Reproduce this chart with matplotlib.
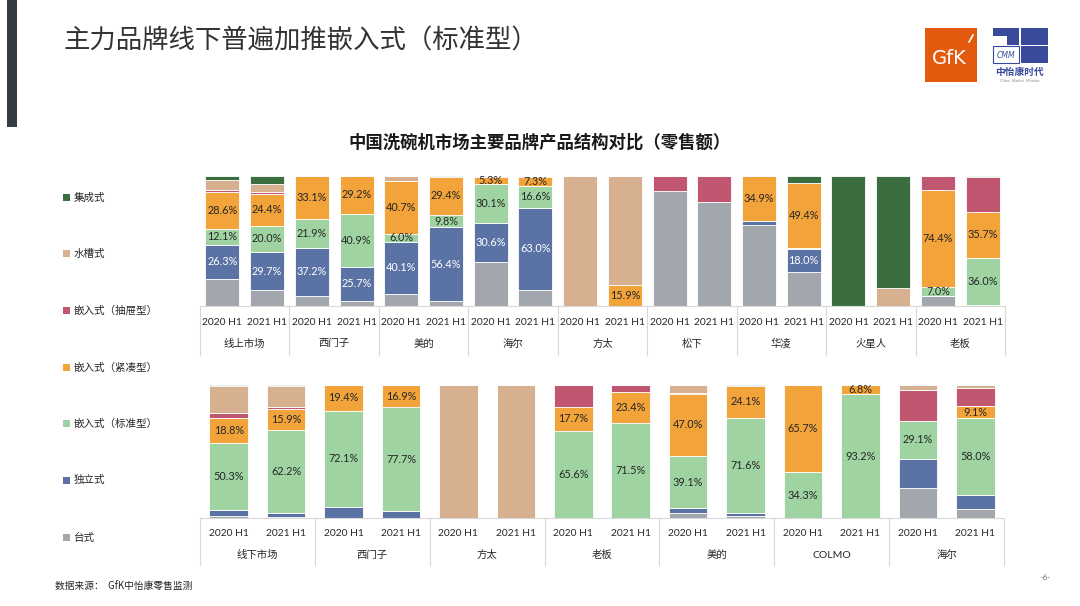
"""
中国洗碗机市场主要品牌产品结构对比（零售额）
Two stacked 100% bar panels + legend and header.
"""

import matplotlib

matplotlib.use("Agg")
import matplotlib.pyplot as plt
import matplotlib.transforms as mtransforms
import numpy as np
from matplotlib.patches import Rectangle

# ─────────────────────────────────────────────
# COLOURS / FONTS
# ─────────────────────────────────────────────
C_JICHENG = "#3a6e3f"
C_SHUICAO = "#d6b08f"
C_CHOUTI = "#c0566f"
C_JINCOU = "#f2a33a"
C_BIAOZHUN = "#9fd4a2"
C_DULI = "#5b72a5"
C_TAISHI = "#a1a7ad"
TEXT_DARK = "#262626"
GRID_LINE = "#d9d9d9"

plt.rcParams["font.family"] = ["Lato", "Noto Sans CJK SC", "DejaVu Sans"]

# ─────────────────────────────────────────────
# DATA  (share of retail value, %)
# ─────────────────────────────────────────────
series_names = ["台式", "独立式", "嵌入式（标准型）", "嵌入式（紧凑型）", "嵌入式（抽屉型）", "水槽式", "集成式"]
series_colors = [C_TAISHI, C_DULI, C_BIAOZHUN, C_JINCOU, C_CHOUTI, C_SHUICAO, C_JICHENG]
periods = ["2020 H1", "2021 H1"]

# top panel
top_brands = ["线上市场", "西门子", "美的", "海尔", "方太", "松下", "华凌", "火星人", "老板"]
top_taishi = [20.9, 12.0, 7.8, 4.2, 9.4, 4.0, 33.5, 12.6, 0, 0, 88.7, 79.8, 62.5, 25.8, 0, 0, 7.8, 0.9]
top_duli = [26.3, 29.7, 37.2, 25.7, 40.1, 56.4, 30.6, 63.0, 0, 0, 0, 0.5, 2.6, 18.0, 0, 0, 0, 0]
top_biaozhun = [12.1, 20.0, 21.9, 40.9, 6.0, 9.8, 30.1, 16.6, 0, 0, 0, 0, 0, 1.2, 0, 0, 7.0, 36.0]
top_jincou = [28.6, 24.4, 33.1, 29.2, 40.7, 29.4, 5.3, 7.3, 0, 15.9, 0, 0, 34.9, 49.4, 0, 0, 74.4, 35.7]
top_chouti = [1.3, 1.8, 0, 0, 0, 0, 0.5, 0.5, 0, 0, 11.3, 19.7, 0, 0, 0, 0, 10.8, 27.0]
top_shuicao = [7.8, 5.9, 0, 0, 3.8, 0, 0, 0, 100, 84.1, 0, 0, 0, 0, 0, 13.6, 0, 0]
top_jicheng = [3.0, 6.2, 0, 0, 0, 0.4, 0, 0, 0, 0, 0, 0, 0, 5.6, 100, 86.4, 0, 0.4]

# bottom panel
bot_brands = ["线下市场", "西门子", "方太", "老板", "美的", "COLMO", "海尔"]
bot_taishi = [1.3, 0.5, 0, 0, 0, 0, 0, 0, 3.7, 1.4, 0, 0, 22.4, 6.6]
bot_duli = [5.0, 3.3, 8.5, 5.4, 0, 0, 0, 0, 3.7, 2.5, 0, 0, 21.8, 10.5]
bot_biaozhun = [50.3, 62.2, 72.1, 77.7, 0, 0, 65.6, 71.5, 39.1, 71.6, 34.3, 93.2, 29.1, 58.0]
bot_jincou = [18.8, 15.9, 19.4, 16.9, 0, 0, 17.7, 23.4, 47.0, 24.1, 65.7, 6.8, 0, 9.1]
bot_chouti = [3.5, 1.8, 0, 0, 0, 0, 16.7, 5.1, 0.5, 0, 0, 0, 23.0, 13.8]
bot_shuicao = [20.6, 15.8, 0, 0, 100, 100, 0, 0, 6.0, 0, 0, 0, 3.7, 2.0]
bot_jicheng = [0.5, 0.5, 0, 0, 0, 0, 0, 0, 0, 0.4, 0, 0, 0, 0]

top_series = [top_taishi, top_duli, top_biaozhun, top_jincou, top_chouti, top_shuicao, top_jicheng]
bot_series = [bot_taishi, bot_duli, bot_biaozhun, bot_jincou, bot_chouti, bot_shuicao, bot_jicheng]

W, H = 1080, 606
fig = plt.figure(figsize=(W / 100, H / 100), dpi=100)
fig.patch.set_facecolor("white")


def px_rect(x0, y0, x1, y1):
    """pixel box (top-left origin) -> figure fraction rect"""
    return [x0 / W, 1 - y1 / H, (x1 - x0) / W, (y1 - y0) / H]


# background axes in pixel coordinates for header / legend / footer
bg = fig.add_axes([0, 0, 1, 1], zorder=-1)
bg.set_xlim(0, W)
bg.set_ylim(H, 0)
bg.axis("off")


def stacked_panel(ax, series, brands, bar_w, label_idx, lab_y, grp_y, line_y):
    n = len(series[0])
    x = np.arange(n)
    bottom = np.zeros(n)
    for k, (vals, color) in enumerate(zip(series, series_colors)):
        vals = np.array(vals, dtype=float)
        ax.bar(x, vals, bar_w, bottom=bottom, color=color, edgecolor="white", linewidth=0.6, zorder=2)
        if k in label_idx:
            txt_col = "white" if k == 1 else TEXT_DARK
            for xi, v, b in zip(x, vals, bottom):
                if v >= 5:
                    ax.text(xi, b + v / 2, f"{v:.1f}%", ha="center", va="center", fontsize=7.8, color=txt_col, zorder=3)
        bottom += vals

    ax.set_xlim(-0.5, n - 0.5)
    ax.set_ylim(0, 100)
    ax.set_xticks([])
    ax.set_yticks([])
    for s in ["top", "left", "right"]:
        ax.spines[s].set_visible(False)
    ax.spines["bottom"].set_color(GRID_LINE)
    ax.spines["bottom"].set_linewidth(0.8)

    trans = mtransforms.blended_transform_factory(ax.transData, ax.transAxes)
    for xi in x:
        ax.text(xi, lab_y, periods[xi % 2], transform=trans, ha="center", va="center", fontsize=7.4, color=TEXT_DARK)
    for g, name in enumerate(brands):
        ax.text(2 * g + 0.5, grp_y, name, transform=trans, ha="center", va="center", fontsize=7.5, color=TEXT_DARK)
    for g in range(len(brands) + 1):
        xs = 2 * g - 0.5
        ax.plot([xs, xs], [0, line_y], transform=trans, color=GRID_LINE, lw=0.8, clip_on=False)


# ══════════════════════════════════════════════
# TOP PANEL
# ══════════════════════════════════════════════
ax_top = fig.add_axes(px_rect(200, 176, 1005, 306))
stacked_panel(ax_top, top_series, top_brands, 0.76, (1, 2, 3), -0.125, -0.29, -0.38)

# ══════════════════════════════════════════════
# BOTTOM PANEL
# ══════════════════════════════════════════════
ax_bot = fig.add_axes(px_rect(200, 385, 1004, 518))
stacked_panel(ax_bot, bot_series, bot_brands, 0.67, (2, 3), -0.115, -0.28, -0.35)

# ─────────────────────────────────────────────
# LEGEND (top → bottom)
# ─────────────────────────────────────────────
leg_y = [197, 253, 310, 367, 423, 480, 537]
for yy, name, color in zip(leg_y, series_names[::-1], series_colors[::-1]):
    bg.add_patch(Rectangle((63, yy - 3.5), 7, 7, facecolor=color, edgecolor="none"))
    bg.text(74, yy, name, ha="left", va="center", fontsize=7.6, color=TEXT_DARK)

# ─────────────────────────────────────────────
# HEADER
# ─────────────────────────────────────────────
bg.add_patch(Rectangle((7, 0), 10, 127, facecolor="#363d40", edgecolor="none"))
bg.text(64, 41, "主力品牌线下普遍加推嵌入式（标准型）", ha="left", va="center", fontsize=19, color="#333333",
        family=["Noto Sans CJK SC", "DejaVu Sans"])
bg.text(540, 143, "中国洗碗机市场主要品牌产品结构对比（零售额）", ha="center", va="center", fontsize=12.5,
        fontweight="bold", color="#1a1a1a", family=["Noto Sans CJK SC", "DejaVu Sans"])

# GfK logo
bg.add_patch(Rectangle((925, 28), 52, 54, facecolor="#e35a0f", edgecolor="none"))
bg.text(949, 58, "GfK", ha="center", va="center", fontsize=14, color="white", family="DejaVu Sans")
bg.plot([969, 973], [42, 35], color="white", lw=1.2)

# CMM logo
BLUE = "#3a4a9b"
bg.add_patch(Rectangle((993, 28), 26, 17, facecolor=BLUE, edgecolor="none"))
bg.add_patch(Rectangle((1021, 28), 27, 17, facecolor=BLUE, edgecolor="none"))
bg.add_patch(Rectangle((1021, 46), 27, 17, facecolor=BLUE, edgecolor="none"))
bg.add_patch(Rectangle((993, 46), 26, 17, facecolor="white", edgecolor=BLUE, linewidth=0.8))
bg.add_patch(Rectangle((993, 36), 14, 9, facecolor="white", edgecolor="none"))
bg.text(1006, 55, "CMM", ha="center", va="center", fontsize=5.5, color=BLUE, style="italic",
        family="DejaVu Sans")
bg.text(1020, 72, "中怡康时代", ha="center", va="center", fontsize=7, fontweight="bold", color=BLUE,
        family=["Noto Sans CJK SC", "DejaVu Sans"])
bg.text(1020, 81, "China  Market  Monitor", ha="center", va="center", fontsize=2.8, color="#888888")

# ─────────────────────────────────────────────
# FOOTER
# ─────────────────────────────────────────────
bg.text(55, 587, "数据来源：  GfK中怡康零售监测", ha="left", va="center", fontsize=7, color=TEXT_DARK,
        family=["Noto Sans CJK SC", "DejaVu Sans"])
bg.text(1046, 578, "-6-", ha="center", va="center", fontsize=5.5, color="#666666")

plt.savefig("out.png", dpi=100, facecolor="white")
